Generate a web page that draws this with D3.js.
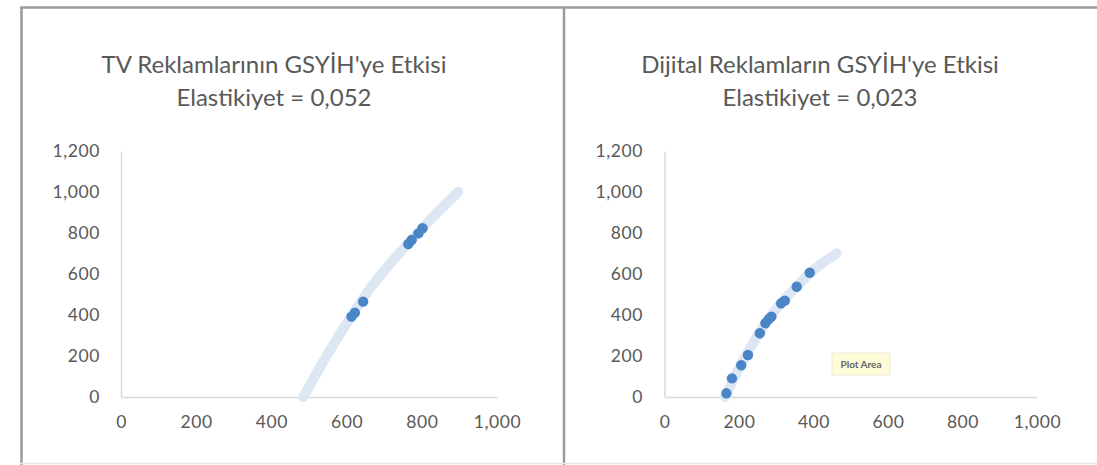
<!DOCTYPE html>
<html>
<head>
<meta charset="utf-8">
<script src="https://cdn.jsdelivr.net/npm/d3@7"></script>
<style>
  html, body { margin: 0; padding: 0; background: #fff; }
  svg { display: block; }
</style>
</head>
<body>
<svg id="chart" width="1097" height="465"></svg>
<script>
// Axis ticks shared by both panels
const xTicks = [0, 200, 400, 600, 800, 1000];
const yTicks = [0, 200, 400, 600, 800, 1000, 1200];

// TV advertising vs GDP
const tvTitle = "TV Reklamlarının GSYİH'ye Etkisi";
const tvSubtitle = "Elastikiyet = 0,052";
const tvX = [613, 622, 644, 764, 773, 791, 802];
const tvY = [392, 411, 465, 746, 766, 798, 823];
const tvTrendX = [485, 556, 653, 724, 813, 897];
const tvTrendY = [0, 229, 506, 668, 847, 1001];

// Digital advertising vs GDP
const digTitle = "Dijital Reklamların GSYİH'ye Etkisi";
const digSubtitle = "Elastikiyet = 0,023";
const digX = [166, 181, 206, 224, 256, 271, 280, 287, 313, 323, 355, 390];
const digY = [18, 91, 155, 205, 311, 360, 380, 392, 457, 470, 538, 606];
const digTrendX = [163, 200, 250, 300, 350, 400, 462];
const digTrendY = [0, 140, 300, 430, 530, 620, 701];

const svg = d3.select("#chart");
const FONT = "Lato, 'Open Sans', sans-serif";
const TEXT = "#595959";

// Outer frame lines
const frame = svg.append("g").attr("stroke", "#9a9a9a").attr("stroke-width", 2.5).attr("fill", "none");
frame.append("line").attr("x1", 20).attr("x2", 1097).attr("y1", 7.5).attr("y2", 7.5);
frame.append("line").attr("x1", 21.5).attr("x2", 21.5).attr("y1", 7).attr("y2", 465);
frame.append("line").attr("x1", 564).attr("x2", 564).attr("y1", 7).attr("y2", 465);
svg.append("line").attr("x1", 20).attr("x2", 1097).attr("y1", 463.5).attr("y2", 463.5)
  .attr("stroke", "#e6e6e6").attr("stroke-width", 1.5);

function panel(opts) {
  const g = svg.append("g");
  const x = d3.scaleLinear().domain([0, 1000]).range([opts.left, opts.right]);
  const y = d3.scaleLinear().domain([0, 1200]).range([397, 151]);

  // Title
  const t = g.append("text").attr("x", opts.cx).attr("text-anchor", "middle")
    .attr("font-family", FONT).attr("font-size", 24).attr("fill", TEXT);
  t.append("tspan").attr("x", opts.cx).attr("y", 73).text(opts.title);
  t.append("tspan").attr("x", opts.cx).attr("y", 106).text(opts.subtitle);

  const fmt = d3.format(",");

  // Y axis
  const ya = g.append("g").attr("transform", `translate(${opts.left},0)`)
    .call(d3.axisLeft(y).tickValues(yTicks).tickFormat(fmt).tickSize(0).tickPadding(opts.left - opts.yLabelX));
  ya.select(".domain").attr("stroke", "#d9d9d9").attr("stroke-width", 1.5);
  ya.selectAll("text").attr("font-family", FONT).attr("font-size", 17.5)
    .attr("letter-spacing", 0.6).attr("fill", TEXT);

  // X axis
  const xa = g.append("g").attr("transform", "translate(0,397)")
    .call(d3.axisBottom(x).tickValues(xTicks).tickFormat(fmt).tickSize(0).tickPadding(19));
  xa.select(".domain").attr("stroke", "#d9d9d9").attr("stroke-width", 1.5);
  xa.selectAll("text").attr("font-family", FONT).attr("font-size", 17.5)
    .attr("letter-spacing", 0.6).attr("fill", TEXT);

  // Trend line
  const trend = opts.trendX.map((v, i) => [v, opts.trendY[i]]);
  g.append("path").datum(trend)
    .attr("d", d3.line().x(d => x(d[0])).y(d => y(d[1])).curve(d3.curveNatural))
    .attr("fill", "none").attr("stroke", "#dde7f3").attr("stroke-width", 10)
    .attr("stroke-linecap", "round");

  // Observations
  const pts = opts.xs.map((v, i) => [v, opts.ys[i]]);
  g.append("g").selectAll("circle").data(pts).join("circle")
    .attr("cx", d => x(d[0])).attr("cy", d => y(d[1])).attr("r", 5.2)
    .attr("fill", "#4a86c6");

  return { g, x, y };
}

panel({ left: 121, right: 497, yLabelX: 100, cx: 274,
  title: tvTitle, subtitle: tvSubtitle,
  xs: tvX, ys: tvY, trendX: tvTrendX, trendY: tvTrendY });

panel({ left: 664.5, right: 1037, yLabelX: 643, cx: 820,
  title: digTitle, subtitle: digSubtitle,
  xs: digX, ys: digY, trendX: digTrendX, trendY: digTrendY });

// Hover label over the right plot area
const tip = svg.append("g").attr("transform", "translate(832,353)");
tip.append("rect").attr("width", 58).attr("height", 22).attr("rx", 1)
  .attr("fill", "#fdfbd8").attr("stroke", "#ecebd0").attr("stroke-width", 1);
tip.append("text").attr("x", 29).attr("y", 14.5).attr("text-anchor", "middle")
  .attr("font-family", FONT).attr("font-size", 10).attr("font-weight", "bold")
  .attr("fill", "#666").text("Plot Area");
</script>
</body>
</html>
